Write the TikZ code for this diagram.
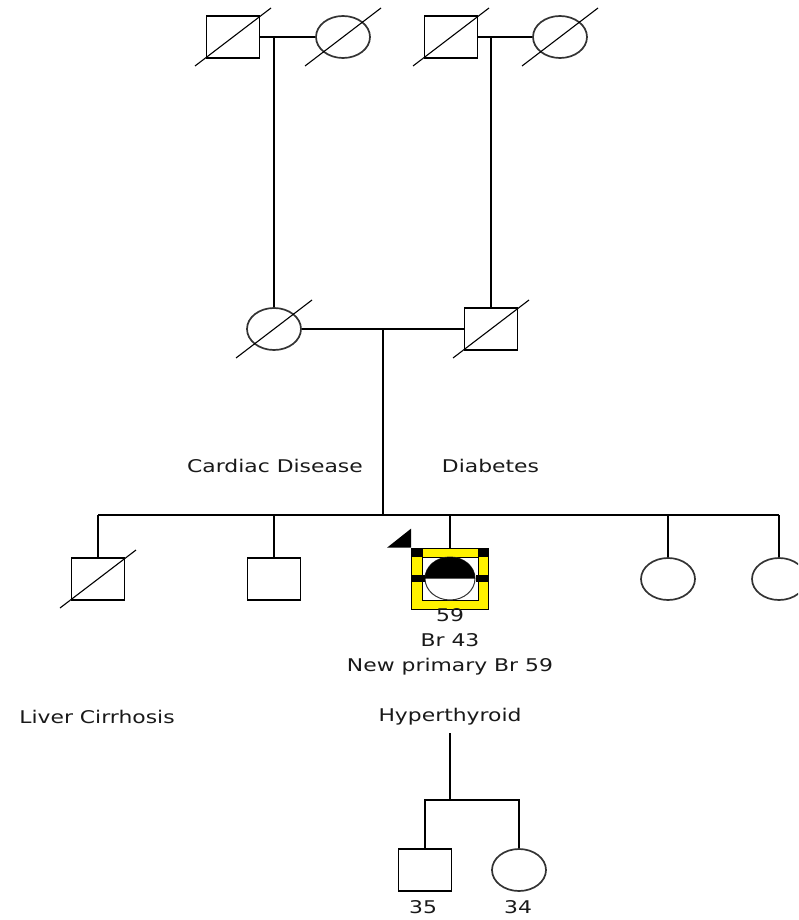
\documentclass[tikz,border=0pt]{standalone}
\usepackage{fontspec}
\setmainfont{DejaVu Sans}
\usepackage{graphicx}
\usetikzlibrary{shapes.geometric}
\newcommand\widetxt[1]{\scalebox{1.25}[1]{#1}}
\begin{document}
\begin{tikzpicture}[x=1pt,y=-1pt,
  male/.style={draw, line width=1.7pt, rectangle, minimum width=53pt, minimum height=42pt, inner sep=0pt},
  female/.style={draw, line width=1.7pt, ellipse, minimum width=54pt, minimum height=42pt, inner sep=0pt, draw=black!80},
  link/.style={line width=1.7pt},
  dec/.style={line width=1.1pt},
  lbl/.style={font=\fontsize{17.5}{20}\selectfont, text=black!90, inner sep=0pt},
  handle/.style={fill=black, inner sep=0pt, minimum width=11pt, minimum height=9pt},
  midhandle/.style={fill=black, inner sep=0pt, minimum width=13pt, minimum height=7pt},
]
\useasboundingbox (0,0) rectangle (798,920);
\clip (0,0) rectangle (798,920);

% generation I
\node[male]   (I1) at (233,37) {};
\node[female] (I2) at (343,37) {};
\node[male]   (I3) at (451,37) {};
\node[female] (I4) at (560,37) {};
% generation II
\node[female] (II1) at (274,329) {};
\node[male]   (II2) at (491,329) {};
% generation III
\node[male]   (III1) at (98,579) {};
\node[male]   (III2) at (274,579) {};
\node[female] (III4) at (668,579) {};
\node[female] (III5) at (779,579) {};
% generation IV
\node[male]   (IV1) at (425,870) {};
\node[female] (IV2) at (519,870) {};

% deceased marks
\foreach \n in {I1,I2,I3,I4,II1,II2,III1}
  \draw[dec] ([shift={(-38,29)}]\n.center) -- ([shift={(38,-29)}]\n.center);

% couples and descent
\draw[link] (I1.east) -- (I2.west);
\draw[link] (I3.east) -- (I4.west);
\coordinate (d1) at (274,37);
\coordinate (d2) at (491,37);
\draw[link] (d1) -- (II1.north);
\draw[link] (d2) -- (II2.north);
\draw[link] (II1.east) -- (II2.west);
\coordinate (d3) at (383,329);
\coordinate (sL) at (98,515);
\coordinate (sR) at (779,515);
\draw[link] (d3) -- (d3 |- sL);
\draw[link] (sL) -- (sR);
\foreach \n in {III1,III2,III4,III5}
  \draw[link] (\n.north) -- (\n.north |- sL);

% proband
\node[draw=black, line width=0.8pt, fill=yellow, minimum width=77pt, minimum height=61pt, inner sep=0pt] (pbx) at (450,578.5) {};
\draw[link] (pbx.north |- sL) -- (pbx.north);
\node[draw=black, line width=0.8pt, fill=white, minimum width=56pt, minimum height=43pt, inner sep=0pt] (pbw) at (450,578.5) {};
\node[female, line width=1pt, minimum width=50pt, minimum height=43pt] (III3) at (450,578.5) {};
\fill ([xshift=-25pt]III3.center) arc[start angle=180, end angle=0, x radius=25pt, y radius=21.5pt] -- cycle;
\node[handle] (h1) at (417,552.5) {};
\node[handle] (h2) at (483,552.5) {};
\node[midhandle] (h3) at (418,578) {};
\node[midhandle] (h4) at (482,578) {};
\fill (pbx.north west) ++(-24,0) -- ++(24,-19) -- ++(0,19) -- cycle;

% labels
\node[lbl] (t59) at (450,615) {\widetxt{59}};
\node[lbl] (tbr) at (450,640) {\widetxt{Br 43}};
\node[lbl] (tnp) at (450,667) {\widetxt{New primary Br 59}};
\node[lbl] (tcd) at (275,466) {\widetxt{Cardiac Disease}};
\node[lbl] (tdb) at (490.5,466) {\widetxt{Diabetes}};
\node[lbl] (tlc) at (97,717) {\widetxt{Liver Cirrhosis}};
\node[lbl] (thy) at (450,717) {\widetxt{Hyperthyroid}};
\node[lbl] (t35) at (423,907) {\widetxt{35}};
\node[lbl] (t34) at (518,907) {\widetxt{34}};

% proband's children
\coordinate (hy) at (450,733);
\coordinate (hb) at (450,800);
\draw[link] (hy) -- (hb);
\draw[link] (IV1.north) |- (hb) -| (IV2.north);
\end{tikzpicture}
\end{document}
